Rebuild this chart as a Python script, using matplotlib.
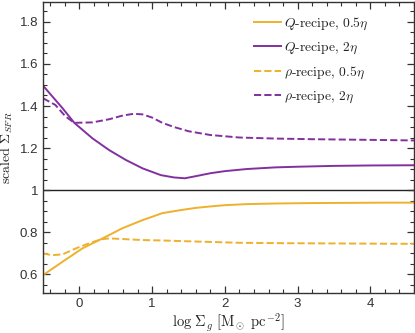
import matplotlib
matplotlib.use("Agg")
import matplotlib.pyplot as plt
from matplotlib.ticker import MultipleLocator, FuncFormatter

plt.rcParams['mathtext.fontset'] = 'cm'
plt.rcParams['font.family'] = ['Liberation Sans', 'DejaVu Sans']

# Q-recipe, 0.5 eta (orange solid)
q05_x = [-0.5, -0.23, 0.04, 0.32, 0.59, 0.87, 1.14, 1.4, 1.6, 1.8, 2.0, 2.3, 2.7, 3.2, 3.7, 4.2, 4.6]
q05_y = [0.595, 0.659, 0.722, 0.77, 0.818, 0.857, 0.89, 0.905, 0.915, 0.922, 0.928,
         0.933, 0.936, 0.938, 0.939, 0.94, 0.94]
# Q-recipe, 2 eta (purple solid)
q2_x = [-0.5, -0.23, -0.07, 0.18, 0.41, 0.64, 0.87, 1.12, 1.3, 1.45, 1.6, 1.8, 2.0, 2.3, 2.7, 3.0, 3.5, 4.0, 4.6]
q2_y = [1.497, 1.389, 1.32, 1.246, 1.19, 1.143, 1.103, 1.071, 1.06, 1.056, 1.066, 1.08, 1.09,
        1.10, 1.108, 1.111, 1.115, 1.117, 1.118]
# rho-recipe, 0.5 eta (orange dashed)
r05_x = [-0.5, -0.37, -0.23, -0.05, 0.13, 0.29, 0.41, 0.87, 1.14, 1.5, 2.2, 2.8, 3.4, 4.0, 4.6]
r05_y = [0.698, 0.69, 0.694, 0.722, 0.746, 0.765, 0.77, 0.762, 0.76, 0.756, 0.749, 0.747, 0.746, 0.745, 0.744]
# rho-recipe, 2 eta (purple dashed)
r2_x = [-0.5, -0.33, -0.19, -0.07, 0.18, 0.41, 0.6, 0.75, 0.87, 1.0, 1.14, 1.3, 1.5, 1.8, 2.2, 2.7, 3.2,
        3.7, 4.2, 4.6]
r2_y = [1.437, 1.405, 1.35, 1.32, 1.322, 1.337, 1.355, 1.363, 1.36, 1.345, 1.32, 1.30, 1.28, 1.262, 1.25,
        1.245, 1.242, 1.24, 1.238, 1.236]

labels = [r"$Q$-recipe, $0.5\eta$", r"$Q$-recipe, $2\eta$",
          r"$\rho$-recipe, $0.5\eta$", r"$\rho$-recipe, $2\eta$"]

orange = '#EFB02C'
purple = '#8230A0'

fig = plt.figure(figsize=(4.15, 3.33), dpi=100)
ax = fig.add_axes([43 / 415, 1 - 293 / 333, 371 / 415, 291 / 333])

lw = 1.4
ax.plot(q05_x, q05_y, color=orange, lw=lw, label=labels[0])
ax.plot(q2_x, q2_y, color=purple, lw=lw, label=labels[1])
ax.plot(r05_x, r05_y, color=orange, lw=lw, ls='--', label=labels[2])
ax.plot(r2_x, r2_y, color=purple, lw=lw, ls='--', label=labels[3])
ax.axhline(1.0, color='#222222', lw=1.0, zorder=0)

ax.set_xlim(-0.5, 4.6)
ax.set_ylim(0.51, 1.895)
ax.xaxis.set_major_locator(MultipleLocator(1))
ax.xaxis.set_minor_locator(MultipleLocator(0.2))
ax.yaxis.set_major_locator(MultipleLocator(0.2))
ax.yaxis.set_minor_locator(MultipleLocator(0.05))
ax.yaxis.set_major_formatter(FuncFormatter(lambda v, p: '%g' % round(v, 3)))
ax.xaxis.set_major_formatter(FuncFormatter(lambda v, p: '%g' % round(v, 3)))
ax.tick_params(which='both', direction='in', top=True, right=True, labelsize=9.5, colors='#333333',
               labelcolor='#333333')
ax.tick_params(which='major', length=5, width=0.9)
ax.tick_params(which='minor', length=3, width=0.8)
for s in ax.spines.values():
    s.set_color('#333333')
    s.set_linewidth(1.0)

ax.set_ylabel(r"$\mathrm{scaled}\ \Sigma_{SFR}$", fontsize=10, color='#222222')
ax.yaxis.set_label_coords(-28 / 371, 0.5)
ax.set_xlabel(r"$\log\,\Sigma_g\ [\mathrm{M}_\odot\ \mathrm{pc}^{-2}]$", fontsize=10.5, color='#222222',
              labelpad=1)

prop = {'family': ['cmr10', 'DejaVu Serif'], 'size': 9.8}
leg = ax.legend(loc='upper left', bbox_to_anchor=(254 / 415, 1 - 16 / 333), bbox_transform=fig.transFigure,
                frameon=False, prop=prop, handlelength=2.0, handletextpad=0.2, labelspacing=0.62,
                borderpad=0, borderaxespad=0)
for t in leg.get_texts():
    t.set_color('#222222')

fig.savefig('out.png', dpi=100)
